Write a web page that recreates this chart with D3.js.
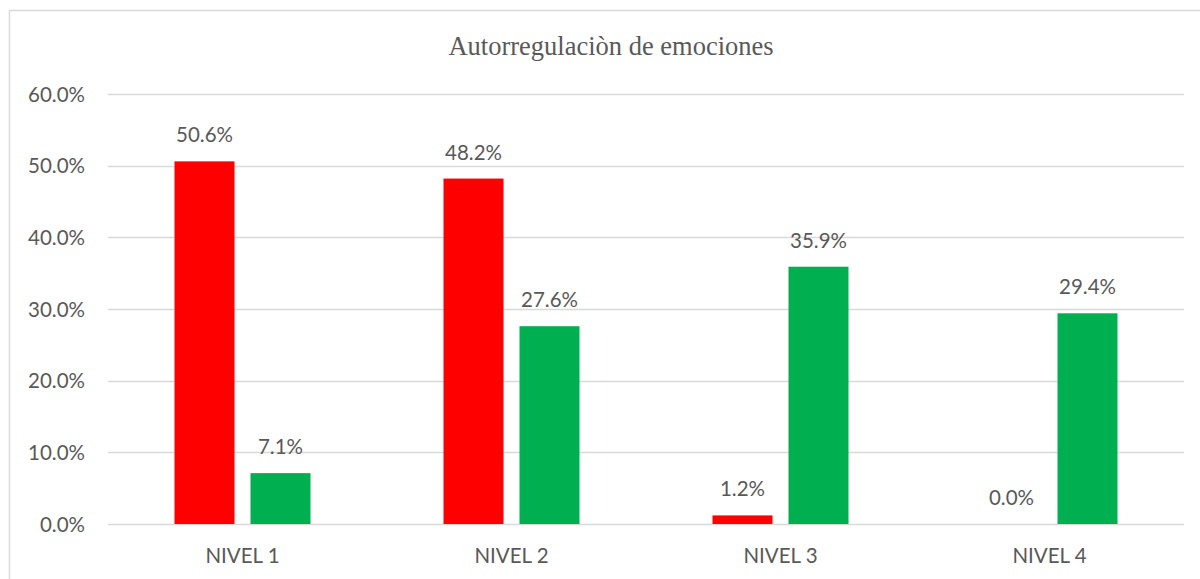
<!DOCTYPE html>
<html><head><meta charset="utf-8">
<script src="https://cdn.jsdelivr.net/npm/d3@7"></script>
<style>body{margin:0;background:#fff}svg{display:block}</style>
</head><body>
<svg id="c" width="1200" height="579"></svg>
<script>
const title = "Autorregulaciòn de emociones";
const categories = ["NIVEL 1", "NIVEL 2", "NIVEL 3", "NIVEL 4"];
const seriesRed = [50.6, 48.2, 1.2, 0.0];
const seriesGreen = [7.1, 27.6, 35.9, 29.4];
const yTicks = [0, 10, 20, 30, 40, 50, 60];

const svg = d3.select("#c");
const font = "Lato, 'Open Sans', sans-serif";
const txt = "#595959";
const fs = 20.5;

svg.append("rect").attr("x", 9.5).attr("y", 10.5).attr("width", 1200).attr("height", 600)
  .attr("fill", "#fff").attr("stroke", "#d9d9d9").attr("stroke-width", 1.5);

const x = d3.scaleBand().domain(categories).range([108, 1184]);
const y = d3.scaleLinear().domain([0, 60]).range([524, 94]);
const barW = 60, gap = 16;

svg.append("g").selectAll("line").data(yTicks).join("line")
  .attr("x1", 108).attr("x2", 1184)
  .attr("y1", d => Math.round(y(d)) + 0.5).attr("y2", d => Math.round(y(d)) + 0.5)
  .attr("stroke", "#d9d9d9").attr("stroke-width", 1.5);

svg.append("g").selectAll("text").data(yTicks).join("text")
  .attr("x", 85).attr("y", d => y(d) + 7.5).attr("text-anchor", "end")
  .attr("font-family", font).attr("font-size", fs).attr("fill", txt)
  .text(d => d.toFixed(1) + "%");

svg.append("text").attr("x", 611).attr("y", 55).attr("text-anchor", "middle")
  .attr("font-family", "'Liberation Serif', 'Times New Roman', serif").attr("font-size", 26.5)
  .attr("fill", txt).text(title);

const cx = c => x(c) + x.bandwidth() / 2;
const series = [
  {vals: seriesRed, color: "#ff0000", off: -gap / 2 - barW},
  {vals: seriesGreen, color: "#00b050", off: gap / 2}
];
series.forEach(s => {
  svg.append("g").selectAll("rect").data(categories).join("rect")
    .attr("x", (c) => cx(c) + s.off).attr("width", barW)
    .attr("y", (c, i) => y(s.vals[i])).attr("height", (c, i) => y(0) - y(s.vals[i]))
    .attr("fill", s.color);
  svg.append("g").selectAll("text").data(categories).join("text")
    .attr("x", c => cx(c) + s.off + barW / 2).attr("y", (c, i) => y(s.vals[i]) - 19)
    .attr("text-anchor", "middle").attr("font-family", font).attr("font-size", fs).attr("fill", txt)
    .text((c, i) => s.vals[i].toFixed(1) + "%");
});

svg.append("g").selectAll("text").data(categories).join("text")
  .attr("x", c => cx(c)).attr("y", 563).attr("text-anchor", "middle")
  .attr("font-family", font).attr("font-size", fs).attr("fill", txt).text(c => c);
</script>
</body></html>
